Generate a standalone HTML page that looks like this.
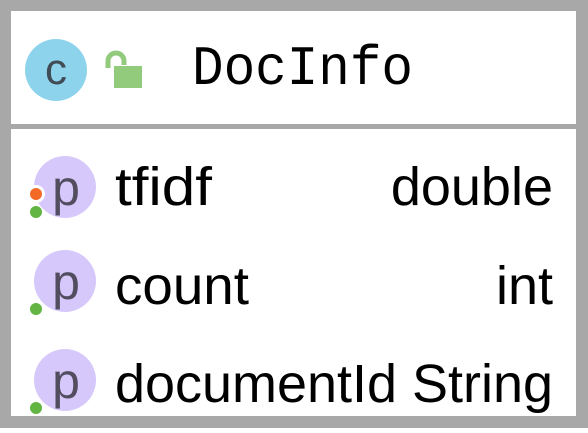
<!DOCTYPE html>
<html><head><style>html,body{margin:0;padding:0;background:#fff}</style></head><body>
<svg width="588" height="428" xmlns="http://www.w3.org/2000/svg">
<rect x="0" y="0" width="588" height="428" fill="#a8a8a8"/>
<rect x="11" y="11" width="565" height="113" fill="#fff"/>
<rect x="11" y="129" width="565" height="287" fill="#fff"/>
<circle cx="56" cy="70" r="31" fill="#8dd3ec"/>
<text x="56" y="84" font-family="Liberation Sans, sans-serif" font-size="44" fill="#3f4b55" text-anchor="middle">c</text>
<path d="M108 68 V61 a8 8 0 0 1 16 0 V65" fill="none" stroke="#93cb7d" stroke-width="5"/>
<rect x="114" y="66" width="28" height="22" fill="#93cb7d"/>
<text x="192" y="84" font-family="Liberation Mono, monospace" font-size="56" fill="#000" textLength="221" lengthAdjust="spacingAndGlyphs">DocInfo</text>
<g font-family="Liberation Sans, sans-serif" font-size="54" fill="#000">
<circle cx="65" cy="187" r="31" fill="#d6c8fb"/>
<circle cx="36" cy="194" r="9" fill="#fff"/>
<circle cx="36" cy="194" r="6" fill="#f26a26"/>
<circle cx="36" cy="212" r="6" fill="#62b543"/>
<text x="66" y="205" font-size="50" fill="#534d60" text-anchor="middle">p</text>
<text x="115" y="205" textLength="97" lengthAdjust="spacingAndGlyphs">tfidf</text>
<text x="553" y="205" text-anchor="end">double</text>
<circle cx="65" cy="281" r="31" fill="#d6c8fb"/>
<circle cx="36" cy="309" r="6" fill="#62b543"/>
<text x="66" y="299" font-size="50" fill="#534d60" text-anchor="middle">p</text>
<text x="115" y="304" textLength="134" lengthAdjust="spacingAndGlyphs">count</text>
<text x="553" y="304" text-anchor="end">int</text>
<circle cx="65" cy="380" r="31" fill="#d6c8fb"/>
<circle cx="36" cy="408" r="6" fill="#62b543"/>
<text x="66" y="398" font-size="50" fill="#534d60" text-anchor="middle">p</text>
<text x="115" y="402" textLength="438" lengthAdjust="spacingAndGlyphs">documentId String</text>
</g>
</svg>
</body></html>
